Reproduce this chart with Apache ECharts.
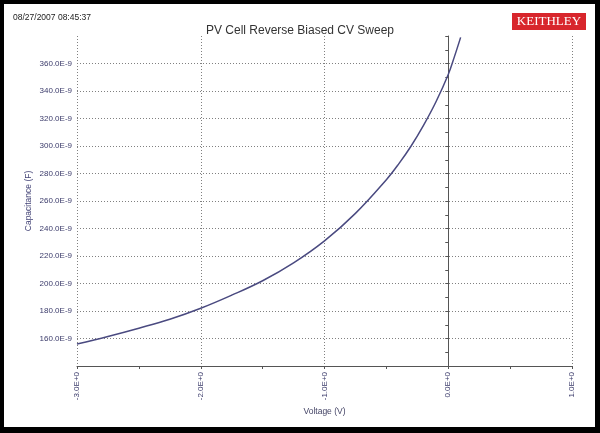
<!DOCTYPE html>
<html>
<head>
<meta charset="utf-8">
<script src="https://cdn.jsdelivr.net/npm/echarts@6/dist/echarts.min.js"></script>
<style>html,body{margin:0;padding:0;background:#000;}#c{width:600px;height:433px;}</style>
</head>
<body>
<div id="c"></div>
<script>
// Voltage (V)
const voltage = [-3.0, -2.75, -2.5, -2.25, -2.0, -1.75, -1.5, -1.25, -1.0, -0.75, -0.5, -0.4, -0.3, -0.2, -0.1, 0.0, 0.05, 0.1];
// Capacitance (x1E-9 F)
const capacitance = [156, 161.5, 167.5, 174, 182, 191.5, 202, 215, 231, 251, 275.5, 287, 300, 315, 332, 352, 365, 379];
const xTicks = [-3, -2, -1, 0, 1];
const yTicks = [160, 180, 200, 220, 240, 260, 280, 300, 320, 340, 360];

const labelColor = '#3a3a6a';
const narrow = '"Liberation Sans Narrow", "Arial Narrow", "Liberation Sans", Arial, sans-serif';
const chart = echarts.init(document.getElementById('c'));
chart.setOption({
  backgroundColor: '#000',
  animation: false,
  title: {
    text: 'PV Cell Reverse Biased CV Sweep',
    left: 'center', top: 20,
    textStyle: { fontFamily: '"Liberation Sans", Arial, sans-serif', fontSize: 12, fontWeight: 'normal', color: '#333' }
  },
  graphic: [
    { type: 'rect', z: -100, silent: true, shape: { x: 4, y: 4, width: 591, height: 423 }, style: { fill: '#fff' } },
    { type: 'text', left: 13, top: 13, style: { text: '08/27/2007 08:45:37', fontSize: 8.5, fontFamily: narrow, fill: '#222' } },
    { type: 'rect', shape: { x: 512, y: 13, width: 74, height: 17 }, style: { fill: '#d8262c' } },
    { type: 'text', x: 549, y: 22, style: { text: 'KEITHLEY', fontSize: 13, fontFamily: '"Liberation Serif", "Liberation Sans", serif', fill: '#fff', align: 'center', verticalAlign: 'middle' } }
  ],
  grid: { left: 77, right: 28, top: 36, bottom: 67 },
  xAxis: {
    type: 'value', min: -3, max: 1, interval: 1,
    name: 'Voltage (V)', nameLocation: 'middle', nameGap: 41, nameMoveOverlap: false,
    nameTextStyle: { fontSize: 8.5, color: '#444466', fontFamily: '"Liberation Sans", Arial, sans-serif' },
    axisLine: { onZero: false, lineStyle: { color: '#555', width: 1 } },
    axisTick: { show: true, length: 3, lineStyle: { color: '#555' } },
    minorTick: { show: true, splitNumber: 2, length: 3, lineStyle: { color: '#555' } },
    axisLabel: {
      rotate: 90, fontSize: 8, color: labelColor, fontFamily: narrow, margin: 6,
      formatter: v => (xTicks.indexOf(v) >= 0 ? v.toFixed(1) + 'E+0' : '')
    },
    splitLine: { show: true, lineStyle: { type: [1, 2], color: '#808080', width: 1 } }
  },
  yAxis: [
    {
      type: 'value', min: 140, max: 380, interval: 20,
      name: 'Capacitance (F)', nameLocation: 'middle', nameGap: 44, nameMoveOverlap: false,
      nameTextStyle: { fontSize: 8.5, color: '#444477', fontFamily: '"Liberation Sans", Arial, sans-serif' },
      axisLine: { show: false, onZero: false },
      axisTick: { show: false },
      axisLabel: {
        fontSize: 8, color: labelColor, fontFamily: narrow, margin: 5,
        formatter: v => (yTicks.indexOf(v) >= 0 ? v.toFixed(1) + 'E-9' : '')
      },
      splitLine: { show: true, showMaxLine: false, lineStyle: { type: [1, 2], color: '#808080', width: 1 } }
    },
    {
      type: 'value', min: 140, max: 380, interval: 20, position: 'left',
      axisLine: { show: true, onZero: true, lineStyle: { color: '#555', width: 1 } },
      axisTick: { show: true, length: 3, lineStyle: { color: '#555' } },
      minorTick: { show: true, splitNumber: 2, length: 3, lineStyle: { color: '#555' } },
      axisLabel: { show: false },
      splitLine: { show: false }
    }
  ],
  series: [{
    type: 'line', yAxisIndex: 0,
    data: voltage.map((v, i) => [v, capacitance[i]]),
    smooth: 0.4, showSymbol: false,
    lineStyle: { color: '#4a4a80', width: 1.5 }
  }]
});
</script>
</body>
</html>
